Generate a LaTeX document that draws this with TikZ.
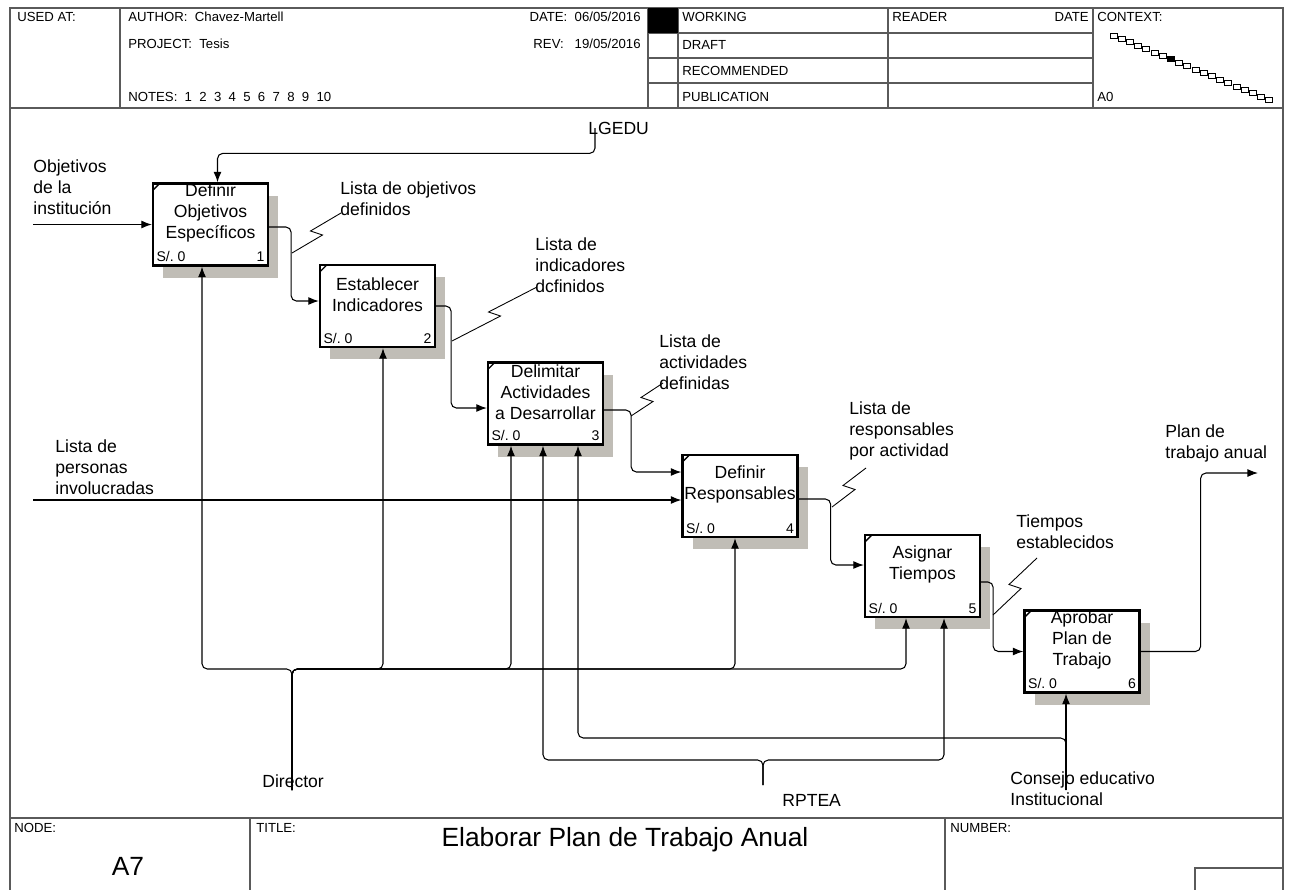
\documentclass[tikz,border=0pt]{standalone}
\usepackage{fontspec}
\setmainfont{Liberation Sans}
\usetikzlibrary{arrows.meta,calc}
\definecolor{shadowgray}{RGB}{192,189,182}
\definecolor{framegray}{RGB}{90,90,90}
\tikzset{
  actbox/.style={draw, line width=1.3pt, fill=white, minimum width=2.3cm, minimum height=1.64cm, inner sep=0pt},
  boxtext/.style={align=center, font=\fontsize{10}{12}\selectfont, inner sep=0pt},
  smalltext/.style={font=\fontsize{8}{9}\selectfont, inner sep=2.5pt},
  arrowlbl/.style={align=left, anchor=west, font=\fontsize{10}{12}\selectfont, inner sep=0pt},
  hdr/.style={anchor=west, font=\fontsize{7.5}{9}\selectfont, inner sep=0pt},
  flow/.style={line width=0.6pt, rounded corners=3pt, -{Latex[length=6pt,width=4.5pt]}},
  squiggle/.style={line width=0.5pt},
  frame/.style={line width=0.7pt, framegray}
}
\newcommand\squig[2]{\draw[squiggle] (#1) -- ($(#1)!0.5!(#2)+(6,2)$) -- ($(#1)!0.5!(#2)+(-6,-2)$) -- (#2);}
\begin{document}
\begin{tikzpicture}[x=0.02cm, y=-0.02cm]
\useasboundingbox (0,0) rectangle (1290,889);
\fill[white] (0,0) rectangle (1290,889);
% frame and header
\draw[frame] (10,8) rectangle (1283,895);
\draw[frame] (10,108) -- (1283,108);
\draw[frame] (120,8) -- (120,108) (648,8) -- (648,108) (678,8) -- (678,108) (888,8) -- (888,108) (1093,8) -- (1093,108);
\draw[frame] (648,33) -- (1093,33) (648,58) -- (1093,58) (648,83) -- (1093,83);
\fill (648,8) rectangle (678,33);
\node[hdr] (usedat) at (17,17) {USED AT:};
\node[hdr] (author) at (128,17) {AUTHOR:\ \ Chavez-Martell};
\node[hdr] (project) at (128,44) {PROJECT:\ \ Tesis};
\node[hdr] (notes) at (128,97) {NOTES:\ \ 1\ \ 2\ \ 3\ \ 4\ \ 5\ \ 6\ \ 7\ \ 8\ \ 9\ \ 10};
\node[hdr, anchor=east] (date) at (641,17) {DATE:\ \ 06/05/2016};
\node[hdr, anchor=east] (rev) at (641,44) {REV:\ \ \ 19/05/2016};
\node[hdr] (working) at (682,17) {WORKING};
\node[hdr] (draft) at (682,45) {DRAFT};
\node[hdr] (recom) at (682,71) {RECOMMENDED};
\node[hdr] (publ) at (682,97) {PUBLICATION};
\node[hdr] (reader) at (892,17) {READER};
\node[hdr, anchor=east] (rdate) at (1089,17) {DATE};
\node[hdr] (context) at (1097,17) {CONTEXT:};
\node[hdr] (azero) at (1097,97) {A0};
\foreach \i in {0,...,19}
  \draw[line width=0.4pt, fill=white] ({1110+\i*8.2},{33+\i*3.4}) rectangle ++(7,5);
\fill ({1110+7*8.2},{33+7*3.4}) rectangle ++(7,5);
% footer
\draw[frame] (10,818) -- (1283,818) (250,818) -- (250,895) (945,818) -- (945,895);
\draw[frame] (1195,895) |- (1283,868);
\node[hdr] (nodelbl) at (14,828) {NODE:};
\node[hdr] (titlelbl) at (256,828) {TITLE:};
\node[hdr] (numberlbl) at (950,828) {NUMBER:};
\node[font=\fontsize{15}{18}\selectfont] (title) at (625,840) {Elaborar Plan de Trabajo Anual};
\node[font=\fontsize{15}{18}\selectfont] (nodeid) at (128,866) {A7};
% activity boxes
\foreach \n/\cx/\cy/\txt in {
  1/210.5/224.5/{Definir\\Objetivos\\Específicos},
  2/377.5/306/{Establecer\\Indicadores},
  3/545.5/403.5/{Delimitar\\Actividades\\a Desarrollar},
  4/740/496/{Definir\\Responsables},
  5/922.5/576/{Asignar\\Tiempos},
  6/1082/651.5/{Aprobar\\Plan de\\Trabajo}}{
  \fill[shadowgray] (\cx-47.5,\cy-29) rectangle (\cx+67.5,\cy+53);
  \node[actbox] (b\n) at (\cx,\cy) {};
  \node[boxtext] (t\n) at (\cx,\cy-11.5) {\txt};
  \node[smalltext, anchor=south west] (s\n) at (b\n.south west) {S/.\ 0};
  \node[smalltext, anchor=south east] (n\n) at (b\n.south east) {\n};
  \draw[line width=0.8pt] ($(b\n.north west)+(1,8)$) -- ($(b\n.north west)+(8,1)$);
}
% inputs, controls, outputs
\coordinate (in1) at (33,224.5);
\coordinate (in2) at (33,500);
\coordinate (lg) at (595,128);
\coordinate (out) at (1258,473);
\draw[flow] (in1) -- (b1.west);
\draw[flow] (in2) -- ($(b4.west)+(0,4)$);
\draw[flow] (lg) |- ($(b1.north)+(7,-29)$) -- ($(b1.north)+(7,0)$);
\draw[flow] ($(b1.east)+(0,2.5)$) -- ++(22,0) |- ($(b2.west)+(0,-5)$);
\draw[flow] (b2.east) -- ++(15,0) |- ($(b3.west)+(0,4.5)$);
\draw[flow] ($(b3.east)+(0,6.5)$) -- ++(27,0) |- ($(b4.west)+(0,-24)$);
\draw[flow] ($(b4.east)+(0,3)$) -- ++(32,0) |- ($(b5.west)+(0,-11)$);
\draw[flow] ($(b5.east)+(0,6)$) -- ++(12,0) |- (b6.west);
\draw[flow] (b6.east) -- ++(60,0) |- (out);
% mechanisms
\coordinate (dir) at (292,790);
\coordinate (dj) at (292,669);
\foreach \t/\dx in {1/-8.5, 2/5.5, 3/-34.5, 4/-5, 5/-16.5}
  \draw[flow] (dir) -- (dj) -| ($(b\t.south)+(\dx,0)$);
\coordinate (rp) at (763,785);
\coordinate (rj) at (763,760);
\draw[flow] (rp) -- (rj) -| ($(b3.south)+(-2.5,0)$);
\draw[flow] (rp) -- (rj) -| ($(b5.south)+(21.5,0)$);
\coordinate (ce) at (1066,790);
\coordinate (cj) at (1066,738);
\draw[flow] (ce) -- ($(b6.south)+(-16,0)$);
\draw[flow] (ce) -- (cj) -| ($(b3.south)+(32.5,0)$);
% arrow labels
\node[arrowlbl] (lobj) at (33,187.5) {Objetivos\\de la\\institución};
\node[arrowlbl] (lpers) at (55,467) {Lista de\\personas\\involucradas};
\node[arrowlbl] (llg) at (588,128) {LGEDU};
\node[arrowlbl] (lo1) at (340,199) {Lista de objetivos\\definidos};
\node[arrowlbl] (lo2) at (535,265) {Lista de\\indicadores\\dcfinidos};
\node[arrowlbl] (lo3) at (659,362) {Lista de\\actividades\\definidas};
\node[arrowlbl] (lo4) at (849,431) {Lista de\\responsables\\por actividad};
\node[arrowlbl] (lo5) at (1016,532) {Tiempos\\establecidos};
\node[arrowlbl] (lo6) at (1165,443) {Plan de\\trabajo anual};
\node[arrowlbl] (ldir) at (262,781) {Director};
\node[arrowlbl] (lrp) at (782,800) {RPTEA};
\node[arrowlbl] (lce) at (1010,789) {Consejo educativo\\Institucional};
% squiggles
\coordinate (q1a) at (292,253); \coordinate (q1b) at (341,213);
\coordinate (q2a) at (452,341); \coordinate (q2b) at (537,287);
\coordinate (q3a) at (631,416); \coordinate (q3b) at (663,383);
\coordinate (q4a) at (832,507); \coordinate (q4b) at (866,468);
\coordinate (q5a) at (993,615); \coordinate (q5b) at (1037,558);
\squig{q1a}{q1b}
\squig{q2a}{q2b}
\squig{q3a}{q3b}
\squig{q4a}{q4b}
\squig{q5a}{q5b}
\end{tikzpicture}
\end{document}
